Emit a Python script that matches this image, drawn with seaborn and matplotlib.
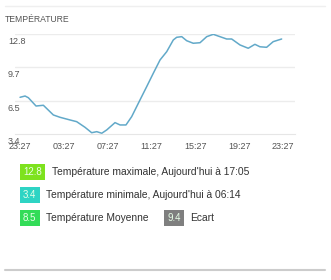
import matplotlib
matplotlib.use("Agg")
import matplotlib.pyplot as plt
import matplotlib.transforms as mtransforms
from matplotlib.lines import Line2D
import seaborn as sns
import pandas as pd

# ---- data ----
hours = [0.0, 0.46, 0.76, 1.46, 2.13, 3.04, 3.65, 4.56, 5.17, 5.93, 6.54, 7.0,
         7.46, 7.91, 8.67, 9.13, 9.67, 10.19, 10.95, 11.56, 12.16, 12.78, 13.39,
         13.99, 14.3, 14.76, 15.21, 15.81, 16.43, 17.04, 17.64, 18.25, 18.86,
         19.32, 20.08, 20.83, 21.44, 21.9, 22.51, 23.11, 23.88]
temps = [6.85, 6.97, 6.81, 6.03, 6.1, 5.19, 4.97, 4.72, 4.56, 4.03, 3.52, 3.62,
         3.47, 3.78, 4.47, 4.25, 4.25, 5.03, 6.6, 7.85, 9.1, 10.36, 11.14,
         12.24, 12.49, 12.55, 12.17, 11.93, 11.98, 12.55, 12.77, 12.55, 12.33,
         12.33, 11.77, 11.46, 11.83, 11.6, 11.55, 12.08, 12.33]
x_ticks = [0, 4, 8, 12, 16, 20, 24]
x_tick_labels = ["23:27", "03:27", "07:27", "11:27", "15:27", "19:27", "23:27"]
y_ticks = [12.8, 9.7, 6.5, 3.4]
y_tick_labels = ["12.8", "9.7", "6.5", "3.4"]
title = "TEMPÉRATURE"
badge_values = ["12.8", "3.4", "8.5", "9.4"]
badge_texts = ["Température maximale, Aujourd'hui à 17:05",
               "Température minimale, Aujourd'hui à 06:14",
               "Température Moyenne", "Ecart"]
badge_colors = ["#7ee21e", "#2ed4c4", "#33dc58", "#7f7f7f"]

sns.set_style("white")
plt.rcParams['font.family'] = ['Liberation Sans', 'DejaVu Sans']

W, H = 331, 280
fig = plt.figure(figsize=(W / 100, H / 100), dpi=100)
ax = fig.add_axes([15 / W, 1 - 134 / H, 280 / W, 100 / H])

df = pd.DataFrame({"h": hours, "t": temps})
sns.lineplot(data=df, x="h", y="t", ax=ax, color="#62a9c9", linewidth=1.1)

ax.set_xlim(-0.46, 25.1)
ax.set_ylim(3.4, 12.8)
for s in ax.spines.values():
    s.set_visible(False)
ax.spines['bottom'].set_visible(True)
ax.spines['bottom'].set_color("#e6e6e6")
ax.set_xlabel("")
ax.set_ylabel("")
ax.set_yticks([])
for yv in y_ticks[:-1]:
    ax.axhline(yv, color="#ececec", linewidth=1.0, zorder=0)
ax.set_xticks(x_ticks)
ax.set_xticklabels(x_tick_labels, fontsize=6.5, color="#555555")
ax.tick_params(axis="x", length=4, width=0.8, color="#dddddd", pad=1.5, direction="out")

tr = mtransforms.blended_transform_factory(fig.transFigure, ax.transData)
for yv, lab in zip(y_ticks, y_tick_labels):
    ax.text(8 / W, yv - 0.25, lab, transform=tr, fontsize=6.5, color="#555555",
            ha="left", va="top")

fig.text(5 / W, 1 - 20 / H, title, fontsize=6.2, color="#555555", ha="left", va="center")

# separator lines
fig.add_artist(Line2D([5 / W, 325 / W], [1 - 6 / H, 1 - 6 / H], color="#efefef", linewidth=1))
fig.add_artist(Line2D([5 / W, 325 / W], [1 - 270 / H, 1 - 270 / H], color="#cccccc", linewidth=1.5))

# legend badges
badge_pos = [(20, 172), (20, 195), (20, 218), (164, 218)]
text_pos = [(52, 172), (46, 195), (46, 218), (190, 218)]
for v, txt, c, (bx, by), (tx, ty) in zip(badge_values, badge_texts, badge_colors, badge_pos, text_pos):
    fig.text(bx / W + 3 / W, 1 - by / H, v, fontsize=7, color="#e8ffe8", ha="left", va="center",
             bbox=dict(boxstyle="square,pad=0.35", fc=c, ec="none"))
    fig.text(tx / W, 1 - ty / H, txt, fontsize=7.4, color="#333333", ha="left", va="center")

fig.savefig("out.png", dpi=100)
